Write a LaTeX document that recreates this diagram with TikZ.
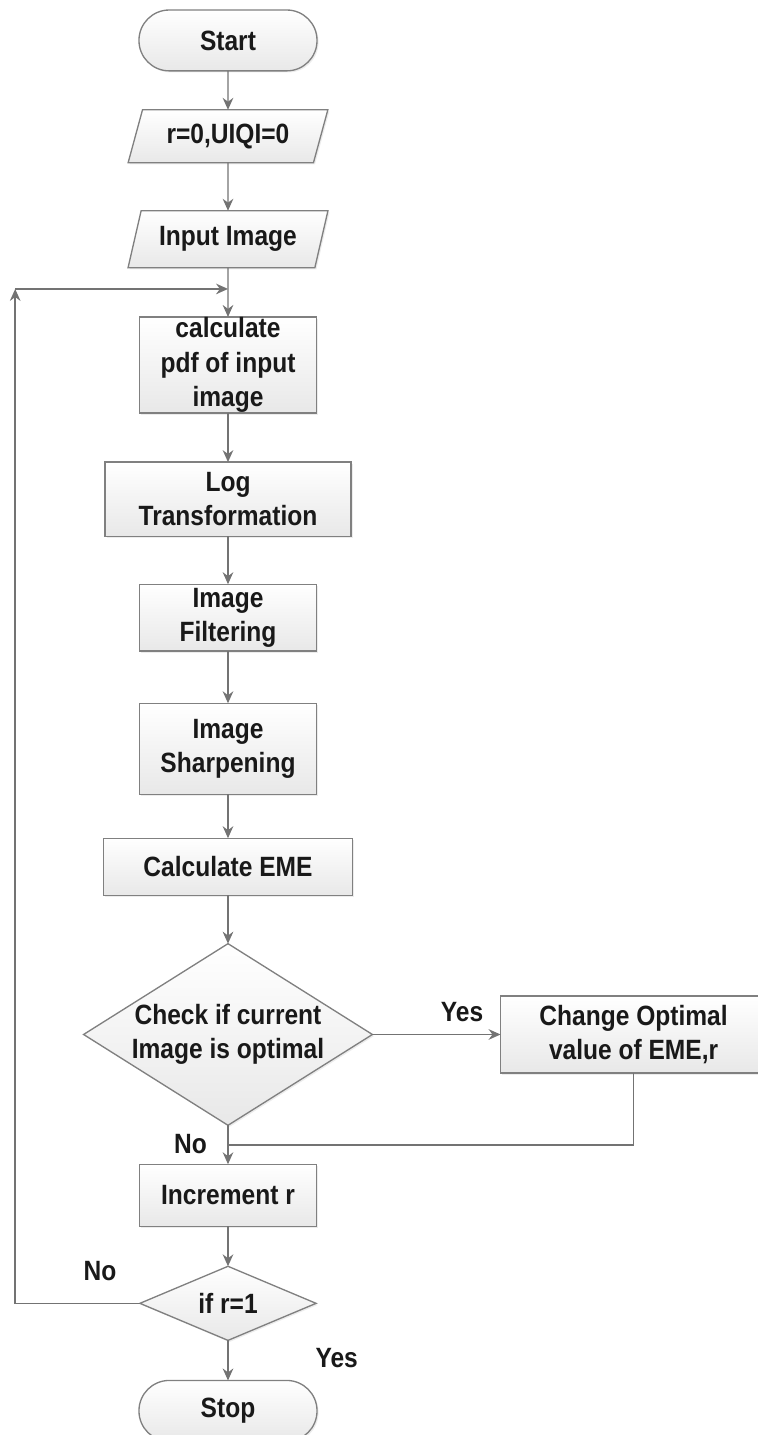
\documentclass[tikz,border=0pt]{standalone}
\usepackage{fontspec}
\setmainfont{Liberation Sans}[FakeStretch=0.88]
\usepackage{tikz}
\usetikzlibrary{shapes,arrows.meta,positioning,calc,shadows}

\begin{document}
\begin{tikzpicture}[
    node distance=1.2cm,
    font=\fontsize{21}{26}\selectfont\bfseries,
    base/.style={draw=black!50, line width=1pt, top color=white, bottom color=black!9, text=black!90, align=center, inner sep=0pt, outer sep=0pt, drop shadow={shadow xshift=1.2pt, shadow yshift=-1.2pt, opacity=0.15}},
    term/.style={base, rectangle, rounded corners=0.8cm, minimum width=4.71cm, minimum height=1.61cm},
    io/.style={base, trapezium, trapezium stretches=true, trapezium left angle=67.5, trapezium right angle=112.5, minimum width=5.29cm},
    process/.style={base, rectangle, minimum width=4.68cm},
    decision/.style={base, diamond},
    arrow/.style={-{Stealth[length=9pt,width=8pt]}, draw=black!55, line width=1.1pt},
    line/.style={draw=black!55, line width=1.1pt},
    lbl/.style={text=black!90}
]
    \useasboundingbox (-6.032,1.07) rectangle (13.996,-36.895);

    % Setup
    \node[term] (start) at (0,0) {Start};
    \node[io, below=1.03cm of start, minimum height=1.40cm] (init) {r=0,UIQI=0};
    \node[io, below=1.27cm of init, minimum height=1.51cm] (input) {Input Image};

    % Processing
    \node[process, below=1.30cm of input, minimum height=2.54cm] (pdf) {calculate\\pdf of input\\image};
    \node[process, below=1.30cm of pdf, minimum width=6.51cm, minimum height=1.96cm] (logt) {Log\\Transformation};
    \node[process, below=1.27cm of logt, minimum height=1.77cm] (filter) {Image\\Filtering};
    \node[process, below=1.38cm of filter, minimum height=2.41cm] (sharpen) {Image\\Sharpening};
    \node[process, below=1.16cm of sharpen, minimum width=6.59cm, minimum height=1.51cm] (eme) {Calculate EME};

    % Optimality check
    \node[decision, aspect=1.59, below=1.28cm of eme, minimum width=7.43cm, minimum height=4.64cm] (check) {Check if current\\Image is optimal};
    \node[process, right=3.39cm of check, minimum width=7.04cm, minimum height=2.04cm] (change) {Change Optimal\\value of EME,r};
    \node[process, below=1.03cm of check, minimum height=1.64cm] (incr) {Increment r};
    \node[decision, aspect=2.38, below=1.06cm of incr, minimum width=4.66cm, minimum height=1.96cm] (last) {if r=1};
    \node[term, below=1.06cm of last] (stop) {Stop};

    % Helper points
    \coordinate (join) at ($(input.south)!0.43!(pdf.north)$);
    \coordinate (corner) at ($(join)+(-5.63cm,0)$);
    \coordinate (merge) at ($(check.south)!0.5!(incr.north)$);

    % Arrows
    \draw[arrow] (start) -- (init);
    \draw[arrow] (init) -- (input);
    \draw[arrow] (input) -- (pdf);
    \draw[arrow] (pdf) -- (logt);
    \draw[arrow] (logt) -- (filter);
    \draw[arrow] (filter) -- (sharpen);
    \draw[arrow] (sharpen) -- (eme);
    \draw[arrow] (eme) -- (check);
    \draw[arrow] (check) -- node[lbl, pos=0.7, above=6pt] {Yes} (change);
    \draw[line] (change.south) |- (merge);
    \draw[arrow] (check) -- node[lbl, pos=0.47, left=12pt] {No} (incr);
    \draw[arrow] (incr) -- (last);
    \draw[arrow] (last) -- node[lbl, pos=0.45, right=62pt] {Yes} (stop);

    % Loop back
    \draw[arrow] (last.west) -| node[lbl, pos=0.16, above=13pt] {No} (corner);
    \draw[arrow] (corner) -- (join);
\end{tikzpicture}
\end{document}
